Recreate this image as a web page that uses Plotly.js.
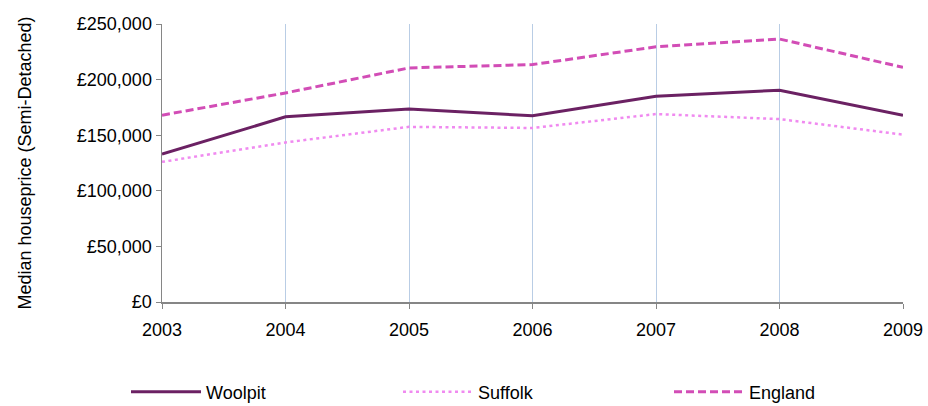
<!DOCTYPE html>
<html>
<head>
<meta charset="utf-8">
<script src="https://cdn.plot.ly/plotly-3.0.1.min.js"></script>
<style>html,body{margin:0;padding:0;background:#fff;}#chart{width:928px;height:406px;}</style>
</head>
<body>
<div id="chart"></div>
<script>
const years = [2003, 2004, 2005, 2006, 2007, 2008, 2009];
const woolpit = [133000, 166500, 173500, 167500, 185000, 190500, 168000];
const suffolk = [126000, 143500, 157500, 156500, 169000, 164500, 150500];
const england = [168000, 188000, 210500, 213500, 229500, 236500, 211000];
const seriesNames = ['Woolpit', 'Suffolk', 'England'];
const yTickVals = [0, 50000, 100000, 150000, 200000, 250000];
const yTickText = ['\u00a30', '\u00a350,000', '\u00a3100,000', '\u00a3150,000', '\u00a3200,000', '\u00a3250,000'];

const font = {family: '"Liberation Sans", Arial, sans-serif', size: 18, color: '#000'};

const traces = [
  {x: years, y: woolpit, name: seriesNames[0], mode: 'lines', legend: 'legend', line: {color: '#6b2163', width: 3}},
  {x: years, y: suffolk, name: seriesNames[1], mode: 'lines', legend: 'legend2', line: {color: '#f08af0', width: 2.5, dash: '3px,3.5px'}},
  {x: years, y: england, name: seriesNames[2], mode: 'lines', legend: 'legend3', line: {color: '#d24db6', width: 3, dash: '8px,4px'}}
];

function legendAt(px) {
  return {
    orientation: 'h', xref: 'container', yref: 'container',
    x: px / 928, xanchor: 'left', y: 14 / 406, yanchor: 'middle',
    itemwidth: 70, font: font, bgcolor: 'rgba(0,0,0,0)'
  };
}

const layout = {
  width: 928, height: 406,
  margin: {l: 162, r: 25, t: 24, b: 104},
  paper_bgcolor: '#fff', plot_bgcolor: '#fff',
  font: font,
  showlegend: true,
  xaxis: {
    range: [2003, 2009], tickvals: years, ticktext: years.map(String),
    showgrid: true, gridcolor: '#b9cde5', gridwidth: 1,
    showline: true, linecolor: '#868686', linewidth: 1.5,
    ticks: 'outside', ticklen: 5, tickcolor: '#868686',
    zeroline: false, tickfont: font, ticklabelstandoff: 6
  },
  yaxis: {
    range: [0, 250000], tickvals: yTickVals, ticktext: yTickText,
    showgrid: false, showline: true, linecolor: '#868686', linewidth: 1.5,
    ticks: 'outside', ticklen: 5, tickcolor: '#868686', zeroline: false,
    tickfont: font, automargin: false,
    title: {text: 'Median houseprice (Semi-Detached)', font: font, standoff: 40}
  },
  legend: legendAt(126),
  legend2: legendAt(398),
  legend3: legendAt(669)
};

Plotly.newPlot('chart', traces, layout, {displayModeBar: false, staticPlot: true});
</script>
</body>
</html>
